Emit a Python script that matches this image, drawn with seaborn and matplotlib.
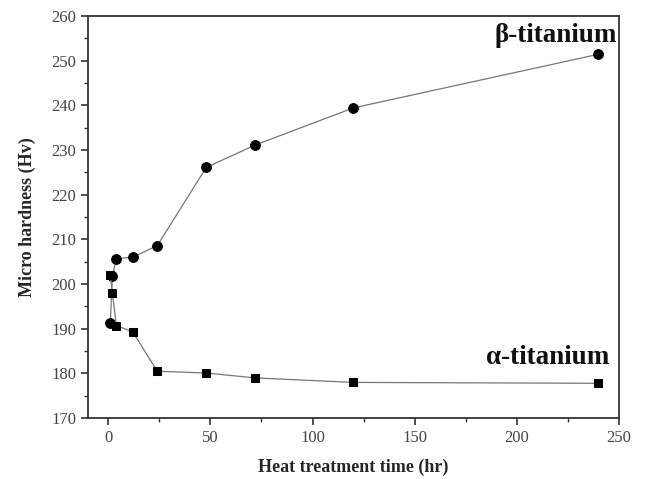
import matplotlib
matplotlib.use("Agg")
import matplotlib.pyplot as plt
from matplotlib.ticker import MultipleLocator
import seaborn as sns
import pandas as pd

time_hr = [1, 2, 4, 12, 24, 48, 72, 120, 240]
beta_hv = [191.3, 201.8, 205.7, 206.0, 208.6, 226.1, 231.1, 239.4, 251.4]
alpha_hv = [202.1, 197.9, 190.7, 189.3, 180.5, 180.1, 179.0, 178.0, 177.8]

sns.set_style("ticks")
plt.rcParams['font.family'] = ['Liberation Serif', 'DejaVu Serif']

df_beta = pd.DataFrame({"t": time_hr, "hv": beta_hv})
df_alpha = pd.DataFrame({"t": time_hr, "hv": alpha_hv})

fig = plt.figure(figsize=(6.46, 4.79), dpi=100)
ax = fig.add_axes([0.136, 0.127, 0.822, 0.840])

sns.lineplot(data=df_beta, x="t", y="hv", ax=ax, color="#777777", lw=0.9,
             marker="o", markersize=7, markerfacecolor="black",
             markeredgecolor="black", sort=False)
sns.lineplot(data=df_alpha, x="t", y="hv", ax=ax, color="#777777", lw=0.9,
             marker="s", markersize=6.3, markerfacecolor="black",
             markeredgecolor="black", sort=False)

ax.set_xlim(-10, 250)
ax.set_ylim(170, 260)
ax.xaxis.set_major_locator(MultipleLocator(50))
ax.xaxis.set_minor_locator(MultipleLocator(25))
ax.yaxis.set_major_locator(MultipleLocator(10))
ax.yaxis.set_minor_locator(MultipleLocator(5))
ax.tick_params(which="major", direction="out", length=5, width=1.2,
               labelsize=12, colors="#333333", labelcolor="#444444")
ax.tick_params(which="minor", direction="out", length=3, width=1.0, colors="#333333")
for s in ax.spines.values():
    s.set_linewidth(1.3)
    s.set_color("#333333")

ax.set_xlabel("Heat treatment time (hr)", fontsize=13, fontweight="bold", labelpad=9)
ax.set_ylabel("Micro hardness (Hv)", fontsize=13, fontweight="bold", labelpad=11)

ax.text(249, 255.5, "β-titanium", fontsize=19.5, fontweight="bold",
        ha="right", va="center", color="#111111")
ax.text(245.5, 183.6, "α-titanium", fontsize=19.5, fontweight="bold",
        ha="right", va="center", color="#111111")

fig.savefig("out.png", dpi=100)
